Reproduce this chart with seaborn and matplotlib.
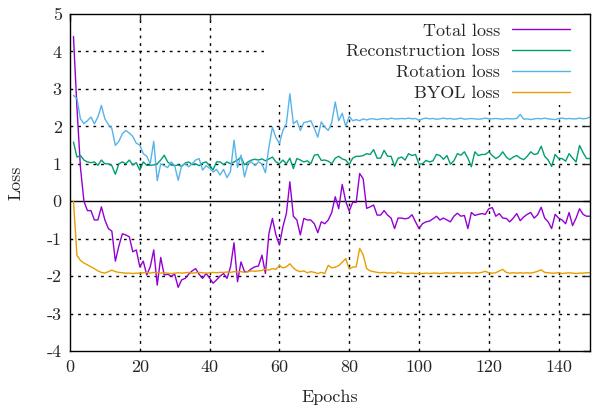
import numpy as np
import pandas as pd
import matplotlib
matplotlib.use("Agg")
import matplotlib.pyplot as plt
import seaborn as sns

# values, one per epoch (1..149)
total_loss = [
    4.4, 2.5, 0.9, 0.0, -0.25, -0.25, -0.5, -0.5, -0.15, -0.5,
    -0.73, -0.8, -1.6, -1.2, -0.87, -0.9, -0.95, -1.35, -1.3, -1.75,
    -1.6, -1.97, -1.75, -1.3, -2.24, -1.5, -1.97, -1.95, -2.0, -1.95,
    -2.3, -2.1, -2.06, -1.95, -1.86, -1.8, -1.95, -2.06, -1.93, -2.05,
    -2.19, -2.1, -2.0, -1.93, -2.06, -1.75, -1.11, -2.15, -1.62, -1.88,
    -1.88, -1.8, -1.75, -1.73, -1.44, -1.93, -0.86, -0.46, -0.9, -1.17,
    -0.68, -0.33, 0.52, -0.4, -0.5, -0.9, -0.46, -0.5, -0.5, -0.6,
    -0.84, -0.55, -0.6, -0.5, -0.3, 0.12, -0.2, 0.45, 0.0, -0.26,
    -0.03, -0.03, 0.74, 0.6, -0.19, -0.15, -0.1, -0.37, -0.37, -0.25,
    -0.37, -0.45, -0.73, -0.45, -0.45, -0.47, -0.45, -0.36, -0.55, -0.73,
    -0.6, -0.55, -0.53, -0.47, -0.4, -0.5, -0.45, -0.5, -0.55, -0.4,
    -0.32, -0.4, -0.38, -0.73, -0.3, -0.38, -0.35, -0.33, -0.35, -0.2,
    -0.17, -0.4, -0.33, -0.45, -0.46, -0.55, -0.45, -0.33, -0.52, -0.42,
    -0.35, -0.3, -0.45, -0.36, -0.16, -0.45, -0.55, -0.73, -0.35, -0.45,
    -0.5, -0.6, -0.3, -0.65, -0.45, -0.2, -0.35, -0.4, -0.4,
]

recon_loss = [
    1.58, 1.18, 1.22, 1.1, 1.05, 1.03, 1.05, 0.96, 1.1, 1.0,
    1.0, 0.95, 0.72, 1.0, 1.05, 1.0, 1.1, 0.97, 1.03, 0.83,
    1.05, 0.96, 0.96, 0.97, 1.0, 1.1, 1.23, 1.05, 0.97, 0.95,
    0.97, 0.93, 1.02, 1.05, 0.98, 1.0, 0.95, 1.02, 1.05, 0.95,
    0.84, 1.05, 1.05, 0.98, 1.05, 1.0, 1.05, 1.1, 1.18, 0.97,
    1.05, 1.1, 1.12, 1.1, 1.13, 1.08, 1.13, 1.18, 1.05, 1.0,
    1.1, 1.0, 1.15, 0.87, 1.14, 1.1, 1.05, 1.08, 1.0, 1.23,
    1.25, 1.09, 1.1, 1.07, 1.0, 1.15, 1.2, 1.13, 1.1, 0.98,
    1.15, 1.2, 1.2, 1.22, 1.27, 1.25, 1.38, 1.15, 1.15, 1.36,
    1.2, 1.2, 0.93, 1.15, 1.18, 1.1, 1.27, 1.22, 1.25, 0.99,
    1.0, 1.09, 1.05, 1.08, 1.25, 1.22, 1.12, 1.22, 0.99, 1.08,
    1.27, 1.23, 1.32, 1.15, 0.92, 1.32, 1.22, 1.25, 1.25, 1.32,
    1.22, 1.14, 1.2, 1.32, 1.18, 1.11, 1.18, 1.22, 1.15, 1.11,
    1.2, 1.32, 1.25, 1.27, 1.47, 1.2, 1.1, 0.93, 1.25, 1.14,
    1.14, 1.07, 1.27, 1.15, 1.05, 1.49, 1.3, 1.14, 1.14,
]

rotation_loss = [
    2.83, 2.74, 2.2, 2.07, 2.15, 2.25, 2.07, 2.25, 2.56, 2.2,
    2.05, 1.94, 1.49, 1.6, 1.8, 1.89, 1.82, 1.73, 1.55, 1.5,
    1.27, 1.2, 1.0, 1.6, 0.55, 1.0, 0.95, 0.9, 1.05, 0.95,
    0.56, 0.95, 1.0, 0.92, 1.0, 1.1, 1.14, 0.83, 0.95, 0.88,
    0.78, 0.85, 0.7, 0.85, 0.63, 0.8, 1.63, 0.9, 1.23, 0.65,
    1.0, 1.05, 0.95, 1.05, 1.0, 0.76, 1.45, 1.98, 1.7, 1.54,
    1.89, 2.07, 2.87, 2.07, 2.15, 1.89, 2.1, 2.12, 2.15, 1.95,
    1.71, 2.12, 1.98, 1.89, 2.1, 2.65, 2.15, 2.35, 2.0, 2.27,
    2.15, 2.18, 2.15, 2.2, 2.17, 2.2, 2.2, 2.18, 2.2, 2.21,
    2.19, 2.22, 2.2, 2.2, 2.21, 2.2, 2.22, 2.2, 2.21, 2.16,
    2.2, 2.22, 2.2, 2.21, 2.19, 2.2, 2.22, 2.2, 2.21, 2.19,
    2.2, 2.22, 2.19, 2.2, 2.21, 2.2, 2.19, 2.2, 2.22, 2.2,
    2.2, 2.21, 2.2, 2.19, 2.21, 2.2, 2.2, 2.21, 2.32, 2.19,
    2.2, 2.18, 2.2, 2.21, 2.2, 2.22, 2.2, 2.19, 2.18, 2.21,
    2.22, 2.2, 2.21, 2.2, 2.2, 2.22, 2.2, 2.21, 2.25,
]

byol_loss = [
    0.0, -1.45, -1.58, -1.65, -1.7, -1.75, -1.8, -1.86, -1.9, -1.92,
    -1.88, -1.84, -1.88, -1.9, -1.91, -1.92, -1.92, -1.93, -1.92, -1.92,
    -1.91, -1.9, -1.92, -1.9, -1.91, -1.92, -1.91, -1.92, -1.93, -1.92,
    -1.91, -1.92, -1.91, -1.9, -1.92, -1.91, -1.9, -1.91, -1.92, -1.91,
    -1.9, -1.91, -1.9, -1.9, -1.89, -1.9, -1.88, -1.89, -1.88, -1.9,
    -1.88, -1.86, -1.87, -1.86, -1.85, -1.81, -1.84, -1.8, -1.82, -1.72,
    -1.78, -1.75, -1.67, -1.78, -1.85, -1.88, -1.86, -1.91, -1.88, -1.9,
    -1.93, -1.9, -1.93, -1.71, -1.78, -1.76, -1.72, -1.63, -1.53, -1.81,
    -1.76, -1.75, -1.26, -1.43, -1.8, -1.86, -1.88, -1.9, -1.91, -1.9,
    -1.92, -1.91, -1.93, -1.89, -1.92, -1.93, -1.93, -1.92, -1.93, -1.93,
    -1.93, -1.92, -1.93, -1.92, -1.92, -1.93, -1.92, -1.91, -1.92, -1.92,
    -1.91, -1.92, -1.92, -1.91, -1.92, -1.91, -1.92, -1.9, -1.87, -1.91,
    -1.92, -1.91, -1.86, -1.82, -1.9, -1.92, -1.91, -1.92, -1.91, -1.92,
    -1.91, -1.92, -1.9, -1.87, -1.83, -1.9, -1.91, -1.92, -1.92, -1.91,
    -1.93, -1.92, -1.91, -1.92, -1.93, -1.92, -1.92, -1.91, -1.91,
]

series_names = ["Total loss", "Reconstruction loss", "Rotation loss", "BYOL loss"]
series_colors = ["#9400d3", "#009e73", "#56b4e9", "#e69f00"]

x_ticks = [0, 20, 40, 60, 80, 100, 120, 140]
y_ticks = [-4, -3, -2, -1, 0, 1, 2, 3, 4, 5]


def main():
    epochs = np.arange(1, len(total_loss) + 1)
    frames = []
    for name, vals in zip(series_names, [total_loss, recon_loss, rotation_loss, byol_loss]):
        frames.append(pd.DataFrame({"Epochs": epochs, "Loss": vals, "series": name}))
    df = pd.concat(frames, ignore_index=True)

    sns.set_style("white")
    plt.rcParams["font.family"] = ["cmr10", "DejaVu Serif"]
    plt.rcParams["mathtext.fontset"] = "cm"
    plt.rcParams["axes.unicode_minus"] = False

    fig = plt.figure(figsize=(5.93, 4.12), dpi=100)
    ax = fig.add_axes([0.118, 0.148, 0.877, 0.818])

    # gnuplot-like dotted grid, drawn under everything
    for xt in x_ticks[1:]:
        ax.axvline(xt, color="black", lw=1.0, ls=(0, (2, 3.5)), zorder=0.5)
    for yt in y_ticks[1:-1]:
        if yt != 0:
            ax.axhline(yt, color="black", lw=1.0, ls=(0, (2, 3.5)), zorder=0.5)
    ax.axhline(0, color="black", lw=1.0, zorder=0.6)

    # opaque key area hides the grid behind the legend
    ax.add_patch(plt.Rectangle((55.5, 2.56), 100, 5, facecolor="white",
                               edgecolor="none", zorder=1))

    sns.lineplot(data=df, x="Epochs", y="Loss", hue="series",
                 hue_order=series_names, palette=series_colors,
                 linewidth=1.0, ax=ax, zorder=2)

    leg = ax.get_legend()
    handles = leg.legend_handles
    labels = [t.get_text() for t in leg.get_texts()]
    for h in handles:
        h.set_linewidth(1.0)
    ax.legend(handles, labels, loc="upper right", bbox_to_anchor=(0.962, 0.973),
              frameon=False, markerfirst=False, handlelength=3.2,
              handletextpad=0.7, labelspacing=0.28, fontsize=13,
              borderaxespad=0, borderpad=0)

    ax.set_xlim(0, 149)
    ax.set_ylim(-4, 5)
    ax.set_xticks(x_ticks)
    ax.set_yticks(y_ticks)
    ax.tick_params(direction="in", length=5, width=1.0, top=True, right=True,
                   labelsize=13, pad=6)
    for sp in ax.spines.values():
        sp.set_linewidth(1.0)
        sp.set_color("black")
        sp.set_zorder(3)

    ax.set_xlabel("Epochs", fontsize=13, labelpad=11)
    ax.set_ylabel("Loss", fontsize=13, labelpad=17)

    fig.savefig("out.png", dpi=100)
    plt.close(fig)


if __name__ == "__main__":
    main()
